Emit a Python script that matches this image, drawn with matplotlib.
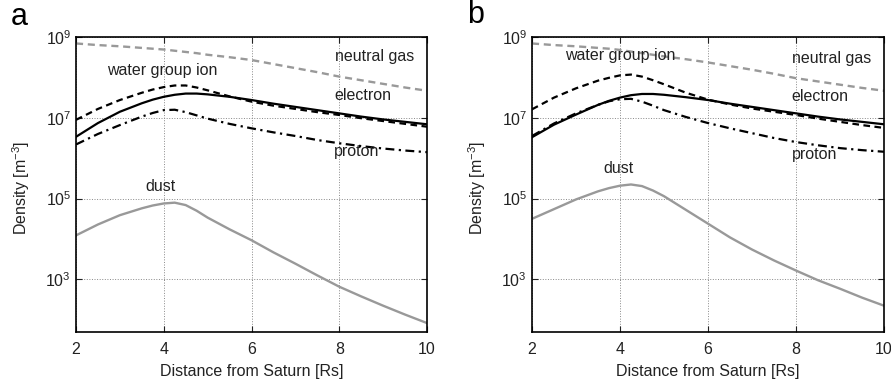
import numpy as np
import matplotlib
matplotlib.use("Agg")
import matplotlib.pyplot as plt

plt.rcParams['font.family'] = ['Liberation Sans', 'DejaVu Sans']
plt.rcParams['mathtext.fontset'] = 'custom'
plt.rcParams['mathtext.rm'] = 'Liberation Sans'
plt.rcParams['mathtext.it'] = 'Liberation Sans:italic'

# distance from Saturn [Rs]
dist = [2, 2.5, 3, 3.5, 3.75, 4, 4.25, 4.5, 4.75, 5, 5.5, 6, 6.5, 7, 7.5, 8, 8.5, 9, 9.5, 10]

# log10 density [m^-3]
# panel a
neutral_a = [8.84, 8.80, 8.77, 8.73, 8.71, 8.69, 8.66, 8.63, 8.60, 8.56, 8.50, 8.43, 8.33, 8.23, 8.13, 8.02, 7.93, 7.84, 7.75, 7.67]
water_a = [6.95, 7.22, 7.44, 7.62, 7.70, 7.76, 7.80, 7.80, 7.75, 7.68, 7.53, 7.40, 7.30, 7.22, 7.14, 7.07, 6.99, 6.92, 6.85, 6.78]
electron_a = [6.53, 6.87, 7.15, 7.36, 7.45, 7.52, 7.57, 7.60, 7.60, 7.58, 7.52, 7.44, 7.35, 7.27, 7.19, 7.11, 7.03, 6.96, 6.90, 6.84]
proton_a = [6.34, 6.60, 6.82, 7.03, 7.12, 7.19, 7.20, 7.14, 7.06, 6.98, 6.85, 6.74, 6.64, 6.55, 6.45, 6.37, 6.30, 6.24, 6.19, 6.15]
dust_a = [4.09, 4.36, 4.59, 4.76, 4.83, 4.88, 4.90, 4.84, 4.70, 4.53, 4.24, 3.97, 3.67, 3.39, 3.10, 2.82, 2.58, 2.35, 2.13, 1.92]

# panel b
neutral_b = [8.84, 8.80, 8.77, 8.73, 8.71, 8.68, 8.64, 8.60, 8.56, 8.52, 8.45, 8.37, 8.28, 8.19, 8.09, 7.98, 7.90, 7.82, 7.74, 7.67]
water_b = [7.21, 7.50, 7.73, 7.92, 7.99, 8.05, 8.07, 8.02, 7.93, 7.83, 7.62, 7.45, 7.33, 7.23, 7.15, 7.07, 6.98, 6.90, 6.82, 6.75]
electron_b = [6.52, 6.83, 7.08, 7.32, 7.42, 7.50, 7.56, 7.59, 7.59, 7.57, 7.51, 7.44, 7.35, 7.27, 7.19, 7.11, 7.03, 6.96, 6.90, 6.84]
proton_b = [6.55, 6.86, 7.11, 7.32, 7.41, 7.46, 7.47, 7.40, 7.30, 7.19, 7.02, 6.87, 6.74, 6.62, 6.50, 6.40, 6.32, 6.25, 6.20, 6.16]
dust_b = [4.50, 4.74, 4.98, 5.18, 5.26, 5.32, 5.35, 5.31, 5.20, 5.06, 4.72, 4.38, 4.04, 3.74, 3.47, 3.22, 2.98, 2.77, 2.55, 2.35]

gray = '#999999'
ink = '#222222'
fs = 11.5

fig = plt.figure(figsize=(8.91, 3.9), dpi=100)
axa = fig.add_axes([76/891, 58/390, 351/891, 295/390])
axb = fig.add_axes([532/891, 58/390, 352/891, 295/390])

panels = [
    (axa, neutral_a, water_a, electron_a, proton_a, dust_a,
     {'neutral gas': (7.9, 8.51), 'water group ion': (2.71, 8.18), 'electron': (7.9, 7.56),
      'proton': (7.88, 6.16), 'dust': (3.59, 5.29)}),
    (axb, neutral_b, water_b, electron_b, proton_b, dust_b,
     {'neutral gas': (7.92, 8.47), 'water group ion': (2.75, 8.53), 'electron': (7.9, 7.52),
      'proton': (7.9, 6.10), 'dust': (3.62, 5.74)}),
]

for ax, neu, wat, ele, pro, dus, labels in panels:
    x = np.array(dist)
    ax.plot(x, 10**np.array(neu), color=gray, lw=1.7, ls=(0, (3, 2)))
    ax.plot(x, 10**np.array(dus), color=gray, lw=1.7)
    ax.plot(x, 10**np.array(wat), color='black', lw=1.6, ls=(0, (3, 2)))
    ax.plot(x, 10**np.array(ele), color='black', lw=1.6)
    ax.plot(x, 10**np.array(pro), color='black', lw=1.6, ls=(0, (4, 2, 1, 2)))

    for name, (tx, ty) in labels.items():
        ax.text(tx, 10**ty, name, fontsize=fs, ha='left', va='center', color=ink)

    ax.set_yscale('log')
    ax.set_xlim(2, 10)
    ax.set_ylim(50, 1e9)
    ax.set_xticks([2, 4, 6, 8, 10])
    ax.set_yticks([1e3, 1e5, 1e7, 1e9])
    ax.yaxis.set_minor_locator(matplotlib.ticker.NullLocator())
    ax.tick_params(direction='in', length=4, labelsize=fs, colors=ink, top=True, right=True)
    ax.tick_params(axis='x', pad=7)
    ax.grid(True, ls=':', color='#888888', lw=0.7)
    for s in ax.spines.values():
        s.set_linewidth(1.2)
    ax.set_xlabel('Distance from Saturn [Rs]', fontsize=fs, color=ink)
    ax.set_ylabel('Density [m$^{-3}$]', fontsize=fs, color=ink)
    ax.xaxis.set_label_coords(0.5, -0.11)
    ax.yaxis.set_label_coords(-0.126, 0.49)

fig.text(11/891, 1 - 17/390, 'a', fontsize=22, ha='left', va='center')
fig.text(467/891, 1 - 15/390, 'b', fontsize=22, ha='left', va='center')

fig.savefig('out.png', dpi=100)
